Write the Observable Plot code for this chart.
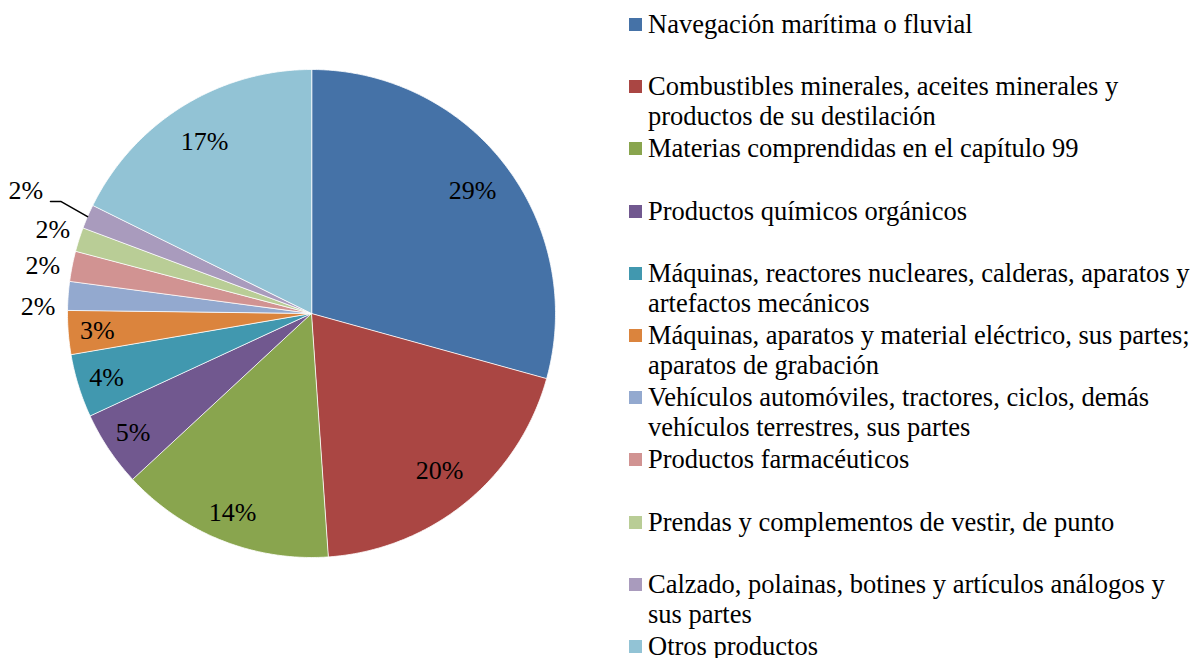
<!DOCTYPE html>
<html><head><meta charset="utf-8">
<script src="https://cdn.jsdelivr.net/npm/d3@7"></script>
<script src="https://cdn.jsdelivr.net/npm/@observablehq/plot@0.6"></script>
<style>
body{margin:0;background:#fff;}
#wrap{position:relative;width:1196px;height:658px;overflow:hidden;font-family:"Liberation Serif","Times New Roman",serif;background:#fff;}
#chart{position:absolute;left:0;top:0;}
#chart svg text{font-family:"Liberation Serif","Times New Roman",serif;}
#legend{position:absolute;left:629px;top:0;width:567px;height:658px;}
.item{position:absolute;left:0;display:flex;align-items:flex-start;}
.sw{width:13px;height:13px;margin-top:9px;margin-right:6px;flex:none;}
.txt{font-size:26.5px;line-height:30px;white-space:pre;color:#000;}
</style></head><body>
<div id="wrap"><div id="chart"></div><div id="legend"></div></div>
<script>
const categories = [
  "Navegación marítima o fluvial",
  "Combustibles minerales, aceites minerales y\nproductos de su destilación",
  "Materias comprendidas en el capítulo 99",
  "Productos químicos orgánicos",
  "Máquinas, reactores nucleares, calderas, aparatos y\nartefactos mecánicos",
  "Máquinas, aparatos y material eléctrico, sus partes;\naparatos de grabación",
  "Vehículos automóviles, tractores, ciclos, demás\nvehículos terrestres, sus partes",
  "Productos farmacéuticos",
  "Prendas y complementos de vestir, de punto",
  "Calzado, polainas, botines y artículos análogos y\nsus partes",
  "Otros productos"
];
const values = [29.3, 19.6, 14.2, 5.0, 4.2, 2.9, 1.9, 2.0, 1.6, 1.6, 17.7];
const valueLabels = ["29%", "20%", "14%", "5%", "4%", "3%", "2%", "2%", "2%", "2%", "17%"];
const colors = ["#4572A7", "#AA4643", "#89A54E", "#71588F", "#4198AF", "#DB843D",
                "#93A9CF", "#D19392", "#B9CD96", "#A99BBD", "#92C3D5"];

const data = categories.map((c, i) => ({key: c, value: values[i], label: valueLabels[i], idx: i}));
const arcs = d3.pie().sort(null).value(d => d.value)(data);

// slice outlines in unit coordinates (clockwise from 12 o'clock)
const pts = [];
for (const a of arcs) {
  pts.push({key: a.data.key, x: 0, y: 0});
  const n = Math.max(2, Math.ceil((a.endAngle - a.startAngle) / 0.01));
  for (let k = 0; k <= n; k++) {
    const t = a.startAngle + (a.endAngle - a.startAngle) * k / n;
    pts.push({key: a.data.key, x: Math.sin(t), y: Math.cos(t)});
  }
}

const inside = [], outside = [], leader = [];
const small = arcs.filter(a => a.data.value < 2.5);
const leaderIdx = small[small.length - 1].data.idx;
const spread = small.filter(a => a.data.idx !== leaderIdx);
const mids = spread.map(a => (a.startAngle + a.endAngle) / 2);
const cMid = d3.mean(mids);
for (const a of arcs) {
  const m = (a.startAngle + a.endAngle) / 2;
  const v = a.data.value;
  if (v >= 2.5) {
    const r = v >= 15 ? 0.83 : 0.88;
    inside.push({x: r * Math.sin(m), y: r * Math.cos(m), text: a.data.label});
  } else if (a.data.idx === leaderIdx) {
    const x0 = Math.sin(m), y0 = Math.cos(m);
    const x1 = x0 - 0.11, y1 = y0 + 0.062;
    const x2 = x1 - 0.042, y2 = y1;
    leader.push({x: x0, y: y0}, {x: x1, y: y1}, {x: x2, y: y2});
    outside.push({x: x2 - 0.03, y: y2 + 0.045, text: a.data.label});
  } else {
    const r = 1.05;
    const la = cMid + (m - cMid) * 1.3;
    outside.push({x: r * Math.sin(la), y: r * Math.cos(la) - 0.01, text: a.data.label});
  }
}

const font = '"Liberation Serif", "Times New Roman", serif';
const chart = Plot.plot({
  width: 1196,
  height: 658,
  margin: 0,
  style: {fontFamily: font, background: "transparent"},
  x: {domain: [-1, 1], range: [67, 555], axis: null},
  y: {domain: [-1, 1], range: [557, 69], axis: null},
  color: {domain: categories, range: colors},
  marks: [
    Plot.line(pts, {x: "x", y: "y", z: "key", fill: "key", stroke: "white", strokeWidth: 0.8, curve: "linear-closed"}),
    Plot.text(inside, {x: "x", y: "y", text: "text", fontSize: 26, fontFamily: font, fill: "black", textAnchor: "middle"}),
    Plot.text(outside, {x: "x", y: "y", text: "text", fontSize: 26, fontFamily: font, fill: "black", textAnchor: "end"}),
    Plot.line(leader, {x: "x", y: "y", stroke: "black", strokeWidth: 1.5})
  ]
});
document.getElementById("chart").appendChild(chart);

const legend = document.getElementById("legend");
categories.forEach((c, i) => {
  const item = document.createElement("div");
  item.className = "item";
  item.style.top = (9 + 62.2 * i) + "px";
  const sw = document.createElement("div");
  sw.className = "sw";
  sw.style.background = colors[i];
  const tx = document.createElement("div");
  tx.className = "txt";
  tx.textContent = c;
  item.appendChild(sw);
  item.appendChild(tx);
  legend.appendChild(item);
});
</script>
</body></html>
